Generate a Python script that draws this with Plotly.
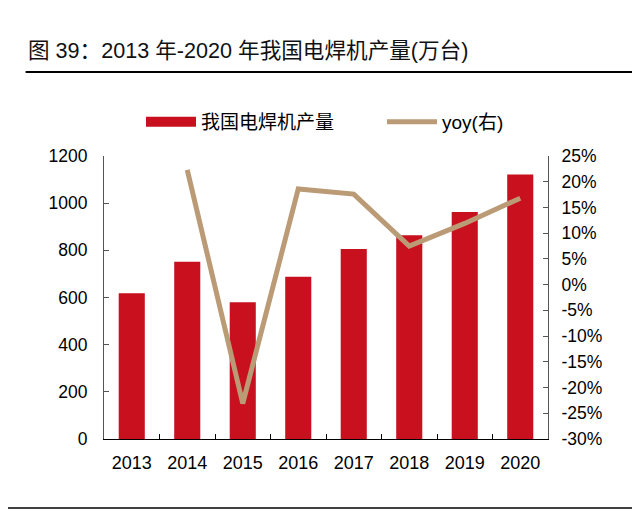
import plotly.graph_objects as go

years = ["2013", "2014", "2015", "2016", "2017", "2018", "2019", "2020"]
production = [618, 752, 580, 688, 806, 864, 963, 1122]
yoy_years = ["2014", "2015", "2016", "2017", "2018", "2019", "2020"]
yoy = [22.3, -23.1, 18.6, 17.6, 7.5, 11.9, 16.8]
left_ticks = [0, 200, 400, 600, 800, 1000, 1200]
right_ticks = [-30, -25, -20, -15, -10, -5, 0, 5, 10, 15, 20, 25]
right_labels = ["-30%", "-25%", "-20%", "-15%", "-10%", "-5%", "0%",
                "5%", "10%", "15%", "20%", "25%"]

W, H = 640, 515
OFF = 8  # page body margin offset
L, T = 103.5 - OFF, 156 - OFF
R = W - (548 - OFF)
B = H - (439 - OFF)
pw = W - L - R
ph = H - T - B

font_main = "Liberation Sans, Arial, Noto Sans CJK SC, sans-serif"
bar_color = "#C8101E"
line_color = "#BB9A76"

fig = go.Figure()
fig.add_trace(go.Bar(
    x=years, y=production, name="我国电焊机产量",
    marker=dict(color=bar_color, line=dict(width=0)),
    width=0.47, yaxis="y", showlegend=False,
))
# legend entry for bars drawn as a wide rectangle-like swatch
fig.add_trace(go.Scatter(
    x=[None], y=[None], name="我国电焊机产量", mode="lines",
    line=dict(color=bar_color, width=14), yaxis="y", legend="legend",
))
fig.add_trace(go.Scatter(
    x=yoy_years, y=yoy, name="yoy(右)", mode="lines",
    line=dict(color=line_color, width=5), yaxis="y2", legend="legend2",
))

def px_x(v):
    return (v - OFF - L) / pw

def px_y(v):
    return (H - B - (v - OFF)) / ph

legend_common = dict(
    orientation="h", xref="container", yref="container",
    xanchor="left", yanchor="middle", y=1 - (122 - OFF) / H,
    font=dict(size=19, family=font_main), itemwidth=50,
    bgcolor="rgba(0,0,0,0)",
)

fig.update_layout(
    width=W, height=H,
    margin=dict(l=L, r=R, t=T, b=B, pad=0, autoexpand=False),
    paper_bgcolor="white", plot_bgcolor="white",
    font=dict(family=font_main, size=16, color="#000000"),
    title=dict(
        text="图 39：2013 年-2020 年我国电焊机产量(万台)",
        xref="container", yref="container",
        x=(28 - OFF) / W, xanchor="left",
        y=1 - (50 - OFF) / H, yanchor="middle",
        font=dict(size=21.6, color="#111111", family=font_main),
    ),
    showlegend=True,
    legend=dict(x=(141 - OFF) / W, **legend_common),
    legend2=dict(x=(382 - OFF) / W, **legend_common),
    xaxis=dict(
        type="category", showline=True, linecolor="#000000", linewidth=1,
        ticks="inside", tickson="boundaries", ticklen=5, tickcolor="#000000",
        showgrid=False, zeroline=False, ticklabelstandoff=7,
        tickfont=dict(size=18), range=[-0.5, 7.5],
    ),
    yaxis=dict(
        range=[0, 1200], tickvals=left_ticks, showline=True,
        linecolor="#555555", linewidth=1, ticks="inside", ticklen=5,
        tickcolor="#555555", showgrid=False, zeroline=False,
        ticklabelstandoff=12, tickfont=dict(size=17.5),
    ),
    yaxis2=dict(
        overlaying="y", side="right", range=[-30, 25],
        tickvals=right_ticks, ticktext=right_labels,
        showline=True, linecolor="#555555", linewidth=1,
        ticks="inside", ticklen=5, tickcolor="#555555",
        showgrid=False, zeroline=False, ticklabelstandoff=9,
        tickfont=dict(size=17.5),
    ),
    shapes=[
        dict(type="line", xref="paper", yref="paper",
             x0=px_x(25), x1=px_x(660), y0=px_y(72), y1=px_y(72),
             line=dict(color="#000000", width=2.2)),
        dict(type="line", xref="paper", yref="paper",
             x0=px_x(0), x1=px_x(660), y0=px_y(508), y1=px_y(508),
             line=dict(color="#000000", width=1.5)),
    ],
)

fig.write_html("out.html")
